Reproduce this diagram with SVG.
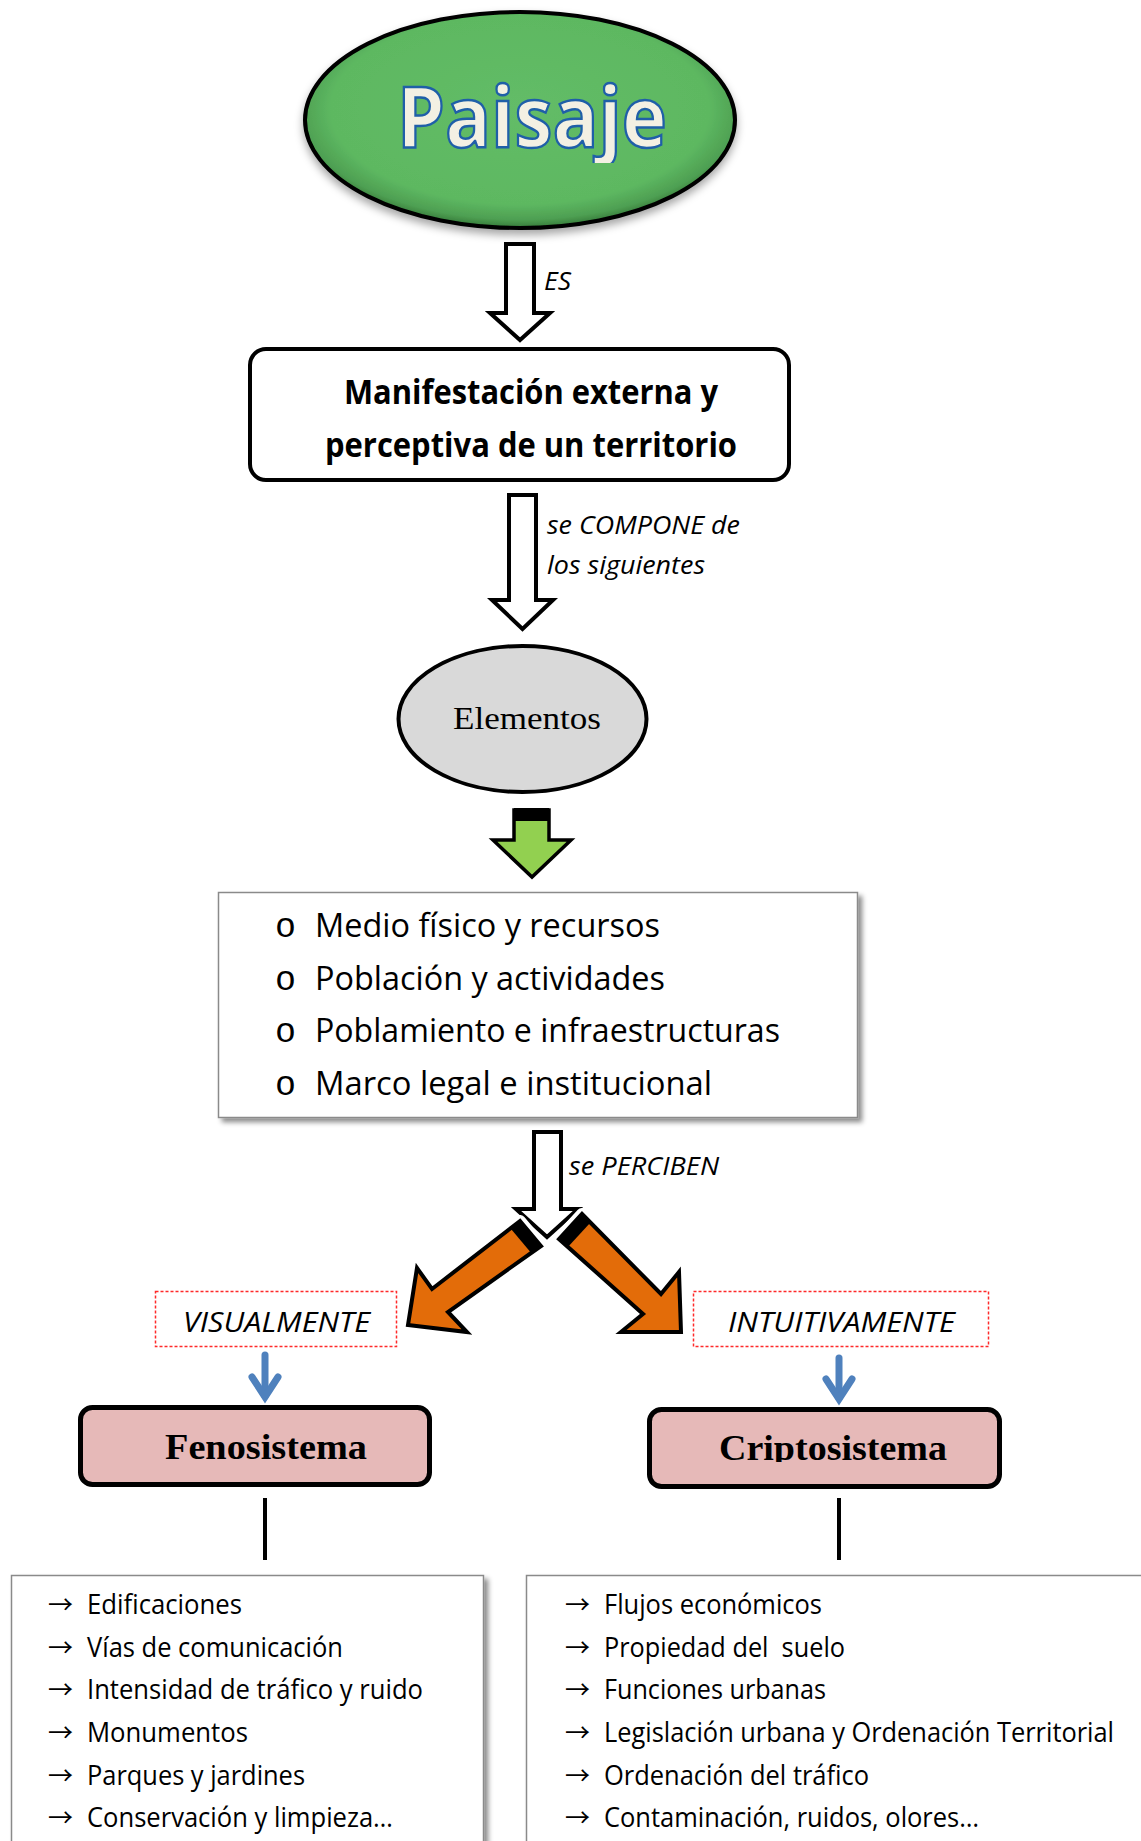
<svg xmlns="http://www.w3.org/2000/svg" width="1141" height="1841" viewBox="0 0 1141 1841">
<defs>
<style>
.sans{font-family:"Open Sans","Liberation Sans",sans-serif;fill:#000}
.it{font-style:italic}
.bold{font-weight:bold}
.serif{font-family:"Liberation Serif","DejaVu Serif",serif;fill:#000}
.arr{font-family:"Noto Sans CJK JP","DejaVu Sans",sans-serif;fill:#000;font-size:25px}
.bul{font-family:"Liberation Mono","DejaVu Sans Mono",monospace;fill:#000;font-size:35px}
.white{fill:#fff;stroke:#000;stroke-width:4;stroke-linejoin:miter}
.orange{fill:#e36c09;stroke:#000;stroke-width:4;stroke-linejoin:miter}
.halo{fill:#fff;stroke:#fff;stroke-width:12;stroke-linejoin:round}
.blue{fill:none;stroke:#4f81bd;stroke-width:7;stroke-linecap:round}
.dash{fill:#fff;stroke:#ff2a2a;stroke-width:1.5;stroke-dasharray:3 2}
.pink{fill:#e6b9b8;stroke:#000;stroke-width:5}
.list{fill:#fff;stroke:#8a8a8a;stroke-width:1.5}
.li{font-size:26.5px}
.el{font-size:33.5px}
</style>
<radialGradient id="gGreen" cx="50%" cy="45%" r="55%">
<stop offset="0" stop-color="#63bc67"/>
<stop offset="0.8" stop-color="#5db861"/>
<stop offset="0.93" stop-color="#4e9f52"/>
<stop offset="1" stop-color="#357a39"/>
</radialGradient>
<filter id="shadow" x="-10%" y="-10%" width="130%" height="130%">
<feDropShadow dx="4" dy="4" stdDeviation="2.5" flood-color="#000" flood-opacity="0.45"/>
</filter>
<filter id="softshadow" x="-10%" y="-10%" width="130%" height="140%">
<feDropShadow dx="0" dy="5" stdDeviation="4" flood-color="#000" flood-opacity="0.35"/>
</filter>
<clipPath id="clipPaisaje"><rect x="300" y="0" width="450" height="163"/></clipPath>
<clipPath id="clipCripto"><rect x="650" y="1400" width="350" height="62"/></clipPath>
</defs>

<g id="connectors">
<polygon id="arrow-es" class="white" points="506,244 534,244 534,313 550,313 520,340 490,313 506,313"/>
<polygon id="arrow-compone" class="white" points="509,495 536,495 536,600 553,600 522.5,629 492,600 509,600"/>
<g id="arrow-green">
<polygon points="514,810 549,810 549,840 571,840 532,877 493,840 514,840" fill="#92d050" stroke="#000" stroke-width="3.5"/>
<rect x="514" y="808" width="35" height="13" fill="#000"/>
</g>
<polygon id="arrow-perciben" class="white" points="534,1132 561,1132 561,1209 578,1209 547,1237 516,1209 534,1209"/>
<g id="arrow-left-orange">
<polygon class="halo" points="520,1221 432,1289 417,1268 408,1325 467,1332 448,1312 541,1246"/>
<polygon class="orange" points="520,1221 432,1289 417,1268 408,1325 467,1332 448,1312 541,1246"/>
<polygon points="520,1221 541,1246 531.4,1253.2 510.4,1228.2" fill="#000"/>
</g>
<g id="arrow-right-orange">
<polygon class="halo" points="582,1214 661,1294 679,1272 681,1332 621,1332 643,1314 559,1239"/>
<polygon class="orange" points="582,1214 661,1294 679,1272 681,1332 621,1332 643,1314 559,1239"/>
<polygon points="582,1214 559,1239 567.7,1247.3 590.7,1222.3" fill="#000"/>
</g>
<g id="arrow-blue-left">
<line class="blue" x1="265" y1="1355" x2="265" y2="1396"/>
<polyline class="blue" points="252,1377 265,1397 278,1377" stroke-linejoin="miter"/>
</g>
<g id="arrow-blue-right">
<line class="blue" x1="839" y1="1358" x2="839" y2="1398"/>
<polyline class="blue" points="826,1379 839,1399 852,1379" stroke-linejoin="miter"/>
</g>
<line id="line-feno" x1="265" y1="1498" x2="265" y2="1560" stroke="#000" stroke-width="4"/>
<line id="line-cripto" x1="839" y1="1498" x2="839" y2="1560" stroke="#000" stroke-width="4"/>
<text class="sans it" x="544" y="290" font-size="25" textLength="27" lengthAdjust="spacingAndGlyphs">ES</text>
<text class="sans it" x="547" y="534" font-size="25" textLength="193" lengthAdjust="spacingAndGlyphs">se COMPONE de</text>
<text class="sans it" x="547" y="574" font-size="25" textLength="158" lengthAdjust="spacingAndGlyphs">los siguientes</text>
<text class="sans it" x="569" y="1175" font-size="26" textLength="150" lengthAdjust="spacingAndGlyphs">se PERCIBEN</text>
</g>

<g id="node-paisaje">
<ellipse cx="520" cy="120" rx="215" ry="108" fill="url(#gGreen)" stroke="#000" stroke-width="4" filter="url(#softshadow)"/>
<text x="532" y="147" text-anchor="middle" font-family="'Open Sans','Liberation Sans',sans-serif" font-weight="bold" font-size="85" fill="#f3f0e3" stroke="#1f5fa8" stroke-width="2.5" textLength="270" lengthAdjust="spacingAndGlyphs" clip-path="url(#clipPaisaje)">Paisaje</text>
</g>

<g id="node-manifestacion">
<rect x="250" y="349" width="539" height="131" rx="16" fill="#fff" stroke="#000" stroke-width="4"/>
<text class="sans bold" x="531" y="404" text-anchor="middle" font-size="33.5" textLength="374" lengthAdjust="spacingAndGlyphs">Manifestación externa y</text>
<text class="sans bold" x="531" y="457" text-anchor="middle" font-size="33.5" textLength="412" lengthAdjust="spacingAndGlyphs">perceptiva de un territorio</text>
</g>

<g id="node-elementos">
<ellipse cx="522.5" cy="719" rx="124" ry="73" fill="#d9d9d9" stroke="#000" stroke-width="4"/>
<text class="serif" x="527" y="729" text-anchor="middle" font-size="31" textLength="148" lengthAdjust="spacingAndGlyphs">Elementos</text>
</g>

<g id="node-lista-elementos">
<rect class="list" x="218.5" y="892.5" width="639" height="225" filter="url(#shadow)"/>
<text class="bul" x="275" y="937">o</text>
<text class="sans el" x="315" y="937" textLength="345" lengthAdjust="spacingAndGlyphs">Medio físico y recursos</text>
<text class="bul" x="275" y="990">o</text>
<text class="sans el" x="315" y="990" textLength="350" lengthAdjust="spacingAndGlyphs">Población y actividades</text>
<text class="bul" x="275" y="1042">o</text>
<text class="sans el" x="315" y="1042" textLength="465" lengthAdjust="spacingAndGlyphs">Poblamiento e infraestructuras</text>
<text class="bul" x="275" y="1095">o</text>
<text class="sans el" x="315" y="1095" textLength="397" lengthAdjust="spacingAndGlyphs">Marco legal e institucional</text>
</g>

<g id="node-visualmente">
<rect class="dash" x="155.5" y="1291.5" width="241" height="55"/>
<text class="sans it" x="183" y="1332" font-size="28" textLength="187" lengthAdjust="spacingAndGlyphs">VISUALMENTE</text>
</g>

<g id="node-intuitivamente">
<rect class="dash" x="693.5" y="1291.5" width="295" height="55"/>
<text class="sans it" x="728" y="1332" font-size="28" textLength="227" lengthAdjust="spacingAndGlyphs">INTUITIVAMENTE</text>
</g>

<g id="node-fenosistema">
<rect class="pink" x="80.5" y="1407.5" width="349" height="77" rx="12"/>
<text class="serif bold" x="266" y="1459" text-anchor="middle" font-size="36" textLength="202" lengthAdjust="spacingAndGlyphs">Fenosistema</text>
</g>

<g id="node-criptosistema">
<rect class="pink" x="649.5" y="1409.5" width="350" height="77" rx="12"/>
<text class="serif bold" x="833" y="1460" text-anchor="middle" font-size="36" textLength="228" lengthAdjust="spacingAndGlyphs" clip-path="url(#clipCripto)">Criptosistema</text>
</g>

<g id="node-lista-feno">
<rect class="list" x="11.5" y="1575.5" width="472" height="300" filter="url(#shadow)"/>
<text class="arr" x="48" y="1614">→</text>
<text class="sans li" x="87" y="1614" textLength="155" lengthAdjust="spacingAndGlyphs">Edificaciones</text>
<text class="arr" x="48" y="1657">→</text>
<text class="sans li" x="87" y="1657" textLength="256" lengthAdjust="spacingAndGlyphs">Vías de comunicación</text>
<text class="arr" x="48" y="1699">→</text>
<text class="sans li" x="87" y="1699" textLength="336" lengthAdjust="spacingAndGlyphs">Intensidad de tráfico y ruido</text>
<text class="arr" x="48" y="1742">→</text>
<text class="sans li" x="87" y="1742" textLength="161" lengthAdjust="spacingAndGlyphs">Monumentos</text>
<text class="arr" x="48" y="1785">→</text>
<text class="sans li" x="87" y="1785" textLength="218" lengthAdjust="spacingAndGlyphs">Parques y jardines</text>
<text class="arr" x="48" y="1827">→</text>
<text class="sans li" x="87" y="1827" textLength="306" lengthAdjust="spacingAndGlyphs">Conservación y limpieza…</text>
</g>

<g id="node-lista-cripto">
<rect class="list" x="526.5" y="1575.5" width="640" height="300" filter="url(#shadow)"/>
<text class="arr" x="565" y="1614">→</text>
<text class="sans li" x="604" y="1614" textLength="218" lengthAdjust="spacingAndGlyphs">Flujos económicos</text>
<text class="arr" x="565" y="1657">→</text>
<text class="sans li" x="604" y="1657" textLength="241" lengthAdjust="spacingAndGlyphs" xml:space="preserve">Propiedad del  suelo</text>
<text class="arr" x="565" y="1699">→</text>
<text class="sans li" x="604" y="1699" textLength="222" lengthAdjust="spacingAndGlyphs">Funciones urbanas</text>
<text class="arr" x="565" y="1742">→</text>
<text class="sans li" x="604" y="1742" textLength="510" lengthAdjust="spacingAndGlyphs">Legislación urbana y Ordenación Territorial</text>
<text class="arr" x="565" y="1785">→</text>
<text class="sans li" x="604" y="1785" textLength="265" lengthAdjust="spacingAndGlyphs">Ordenación del tráfico</text>
<text class="arr" x="565" y="1827">→</text>
<text class="sans li" x="604" y="1827" textLength="375" lengthAdjust="spacingAndGlyphs">Contaminación, ruidos, olores…</text>
</g>
</svg>
